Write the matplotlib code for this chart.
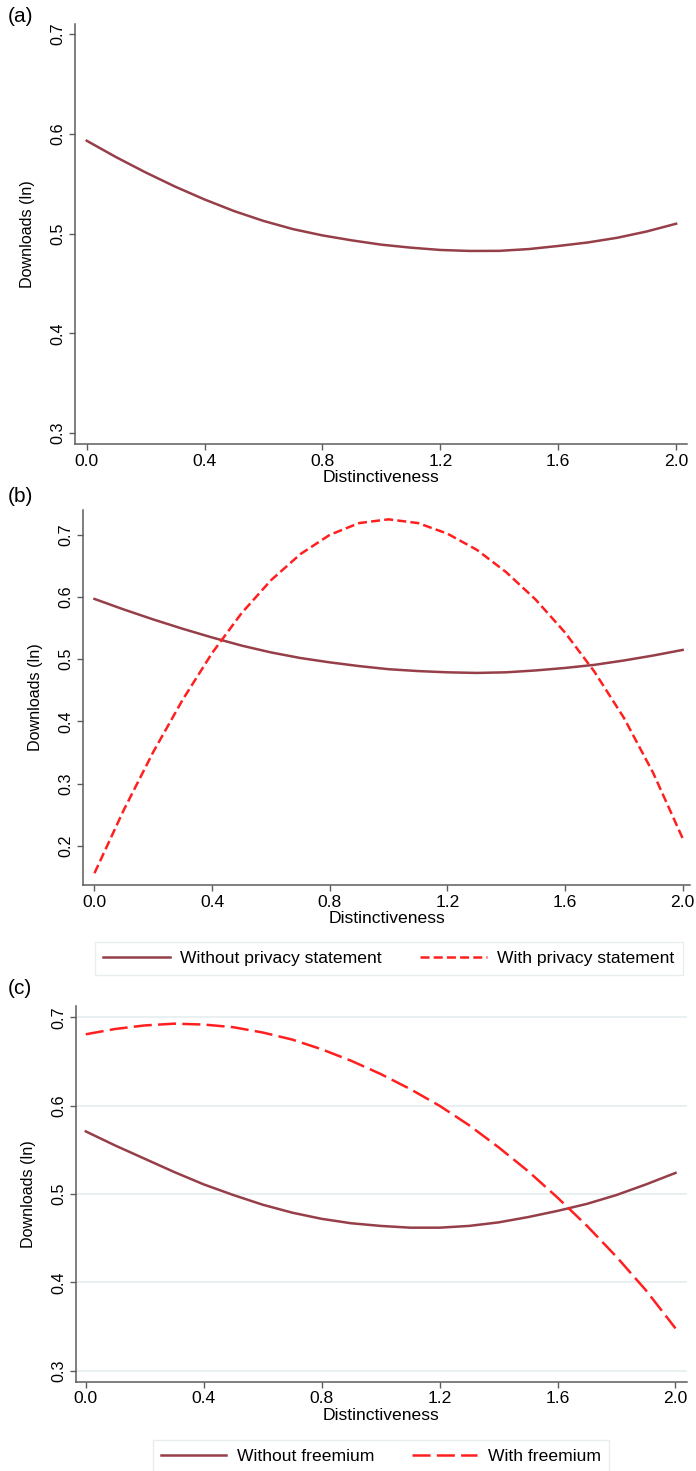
import numpy as np
import matplotlib
matplotlib.use("Agg")
import matplotlib.pyplot as plt

plt.rcParams['font.family'] = ['Liberation Sans', 'DejaVu Sans']
plt.rcParams['lines.scale_dashes'] = False

# distinctiveness grid
dist = [0.0, 0.1, 0.2, 0.3, 0.4, 0.5, 0.6, 0.7, 0.8, 0.9, 1.0,
        1.1, 1.2, 1.3, 1.4, 1.5, 1.6, 1.7, 1.8, 1.9, 2.0]

# (a) overall
a_main = [0.593, 0.5765, 0.5612, 0.547, 0.5341, 0.5225, 0.5126, 0.5044, 0.4981, 0.4931, 0.4888,
          0.4858, 0.4835, 0.4825, 0.4826, 0.4844, 0.4875, 0.4910, 0.4957, 0.5020, 0.5098]

# (b) privacy statement
b_without = [0.597, 0.580, 0.564, 0.549, 0.535, 0.522, 0.511, 0.502, 0.495, 0.489, 0.484,
             0.481, 0.479, 0.478, 0.479, 0.482, 0.486, 0.491, 0.498, 0.506, 0.515]
b_with = [0.156, 0.258, 0.351, 0.435, 0.510, 0.574, 0.627, 0.669, 0.700, 0.719, 0.725,
          0.719, 0.702, 0.676, 0.640, 0.596, 0.543, 0.480, 0.406, 0.317, 0.212]

# (c) freemium
c_without = [0.571, 0.555, 0.540, 0.525, 0.511, 0.499, 0.488, 0.479, 0.472, 0.467, 0.464,
             0.462, 0.462, 0.464, 0.468, 0.474, 0.481, 0.489, 0.499, 0.511, 0.524]
c_with = [0.681, 0.687, 0.691, 0.693, 0.692, 0.689, 0.683, 0.675, 0.664, 0.651, 0.636,
          0.619, 0.600, 0.578, 0.553, 0.526, 0.496, 0.464, 0.429, 0.391, 0.348]

x_ticks = [0.0, 0.4, 0.8, 1.2, 1.6, 2.0]
x_ticklabels = ['0.0', '0.4', '0.8', '1.2', '1.6', '2.0']
y_ticks_a = [0.3, 0.4, 0.5, 0.6, 0.7]
y_ticks_b = [0.2, 0.3, 0.4, 0.5, 0.6, 0.7]
y_ticks_c = [0.3, 0.4, 0.5, 0.6, 0.7]

MAROON = '#963f49'
RED = '#ff1f1f'
SPINE = '#5c5c5c'
FS = 12.6

W, H = 696, 1471
fig = plt.figure(figsize=(W / 100, H / 100), dpi=100)


def px_axes(left, top, right, bottom):
    return fig.add_axes([left / W, 1 - bottom / H, (right - left) / W, (bottom - top) / H])


def style(ax, yticks, xlim, ylim, grid=False):
    ax.set_xlim(*xlim)
    ax.set_ylim(*ylim)
    for s in ['top', 'right']:
        ax.spines[s].set_visible(False)
    for s in ['left', 'bottom']:
        ax.spines[s].set_color(SPINE)
        ax.spines[s].set_linewidth(1.1)
    ax.set_xticks(x_ticks)
    ax.set_xticklabels(x_ticklabels, fontsize=FS)
    ax.set_yticks(yticks)
    ax.set_yticklabels(['%.1f' % v for v in yticks], fontsize=FS - 1, rotation=90, va='center')
    ax.tick_params(axis='both', length=4, width=1, color=SPINE, pad=3)
    ax.set_xlabel('Distinctiveness', fontsize=FS, labelpad=1)
    ax.set_ylabel('Downloads (ln)', fontsize=FS - 1)
    ax.yaxis.set_label_coords(-40 / (ax.get_position().width * W), 0.5)
    if grid:
        ax.yaxis.grid(True, color='#e4eef0', lw=1.2)
        ax.set_axisbelow(True)


line_kw = dict(lw=1.8, solid_joinstyle='round', dash_joinstyle='round')

# panel (a)
ax1 = px_axes(75, 24, 687, 444)
ax1.plot(dist, a_main, color=MAROON, **line_kw)
style(ax1, y_ticks_a, (-0.0397, 2.037), (0.289, 0.71))
fig.text(8 / W, 1 - 16 / H, '(a)', fontsize=15, va='center', ha='left')

# panel (b)
ax2 = px_axes(83, 510, 690, 885)
l1, = ax2.plot(dist, b_without, color=MAROON, label='Without privacy statement', **line_kw)
l2, = ax2.plot(dist, b_with, color=RED, dashes=(6.5, 3.0), label='With privacy statement', **line_kw)
style(ax2, y_ticks_b, (-0.039, 2.025), (0.137, 0.74))
fig.text(8 / W, 1 - 497 / H, '(b)', fontsize=15, va='center', ha='left')
leg = fig.legend(handles=[l1, l2], loc='center', bbox_to_anchor=(389 / W, 1 - 958.5 / H),
                 ncol=2, fontsize=FS, frameon=True, fancybox=False, handlelength=3.8,
                 handletextpad=0.6, columnspacing=2.2, borderpad=0.5)
leg.get_frame().set_edgecolor('#e3e9eb')
leg.get_frame().set_linewidth(1.0)

# panel (c)
ax3 = px_axes(75.6, 1006, 686.7, 1381.7)
l3, = ax3.plot(dist, c_without, color=MAROON, label='Without freemium', **line_kw)
l4, = ax3.plot(dist, c_with, color=RED, dashes=(13, 4.5), label='With freemium', **line_kw)
style(ax3, y_ticks_c, (-0.0346, 2.038), (0.2876, 0.713), grid=True)
fig.text(8 / W, 1 - 988 / H, '(c)', fontsize=15, va='center', ha='left')
leg2 = fig.legend(handles=[l3, l4], loc='center', bbox_to_anchor=(381 / W, 1 - 1456.5 / H),
                  ncol=2, fontsize=FS, frameon=True, fancybox=False, handlelength=3.7,
                  handletextpad=0.6, columnspacing=2.2, borderpad=0.5)
leg2.get_frame().set_edgecolor('#e3e9eb')
leg2.get_frame().set_linewidth(1.0)

fig.savefig('out.png', dpi=100)
